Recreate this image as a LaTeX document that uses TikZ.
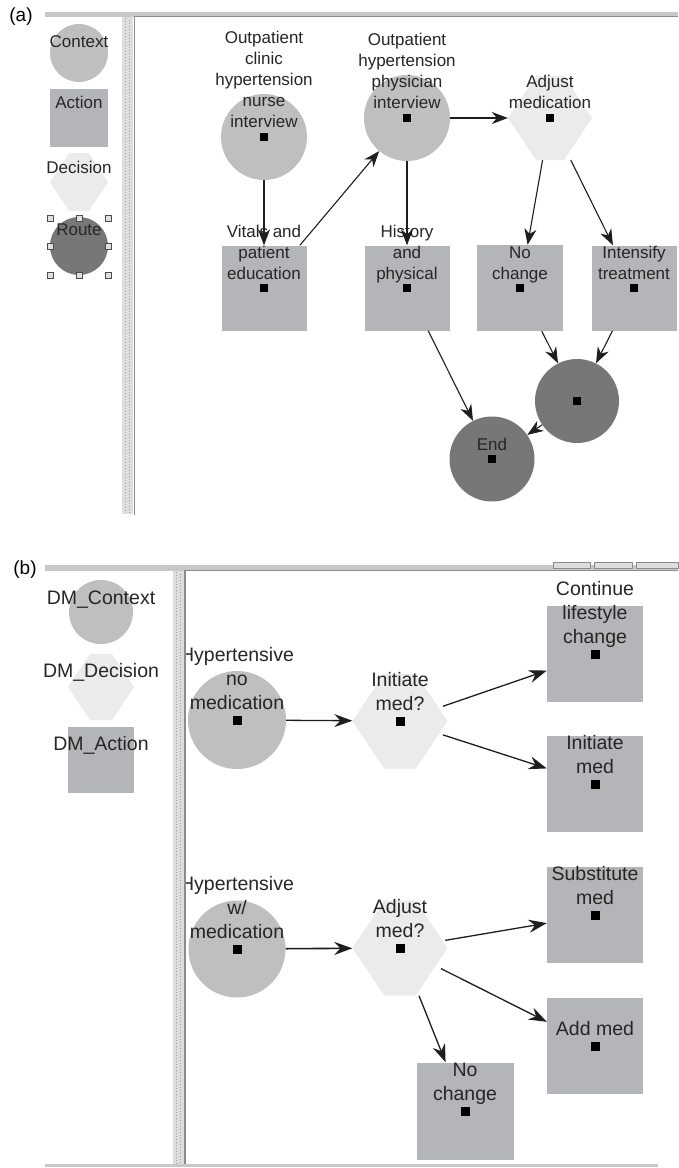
\documentclass[tikz,border=0pt]{standalone}
\usepackage{fontspec}
\setmainfont{Liberation Sans}
\usetikzlibrary{arrows.meta,calc}

\definecolor{ctxfill}{HTML}{BFBFBF}
\definecolor{actfill}{HTML}{B4B5B8}
\definecolor{decfill}{HTML}{EBEBEC}
\definecolor{routefill}{HTML}{777777}
\definecolor{labeltext}{HTML}{262626}
\definecolor{barlight}{HTML}{C8C8C8}
\definecolor{bardark}{HTML}{8C8C8C}
\definecolor{splitfill}{HTML}{DEDEDE}
\definecolor{splitdot}{HTML}{A0A0A0}
\definecolor{edgecol}{HTML}{1E1E1E}

\begin{document}
\begin{tikzpicture}[x=1pt,y=-1pt,
  context/.style={circle, fill=ctxfill, inner sep=0pt, minimum size=#1},
  route/.style={circle, fill=routefill, inner sep=0pt, minimum size=#1},
  action/.style={rectangle, fill=actfill, inner sep=0pt, minimum size=#1},
  decision/.style={rectangle, inner sep=0pt, minimum size=#1, path picture={
     \fill[decfill] (path picture bounding box.west)
       -- ($(path picture bounding box.north west)!1/3!(path picture bounding box.north east)$)
       -- ($(path picture bounding box.north west)!2/3!(path picture bounding box.north east)$)
       -- (path picture bounding box.east)
       -- ($(path picture bounding box.south west)!2/3!(path picture bounding box.south east)$)
       -- ($(path picture bounding box.south west)!1/3!(path picture bounding box.south east)$)
       -- cycle;}},
  lblA/.style={anchor=base, align=center, inner sep=0pt, text=labeltext,
     font=\fontsize{17}{21}\selectfont},
  lblB/.style={anchor=base, align=center, inner sep=0pt, text=labeltext,
     font=\fontsize{19.5}{24}\selectfont},
  panel/.style={anchor=center, inner sep=0pt, font=\fontsize{19}{22}\selectfont},
  edgeA/.style={draw=edgecol, line width=1.1pt,
     -{Stealth[length=16pt,width=12pt,inset=5pt]}},
  edgeB/.style={draw=edgecol, line width=1.3pt,
     -{Stealth[length=18pt,width=13pt,inset=6pt]}},
  handle/.style={draw=black!70, fill=black!12, line width=0.8pt},
  marker/.style={fill=black}
]
\useasboundingbox (0,0) rectangle (678,1168);
\fill[white] (0,0) rectangle (678,1168);

% ---------------- panel (a): window frame ----------------
\node[panel] (tagA) at (21,17) {(a)};
\fill[barlight] (45,12) rectangle (678,16.5);
\draw[bardark, line width=0.8pt] (134,16.8) -- (678,16.8);
\fill[splitfill] (122,17) rectangle (133,514);
\draw[splitdot, line width=1pt, dash pattern=on 1pt off 2pt] (125,18) -- (125,513);
\draw[splitdot, line width=1pt, dash pattern=on 1pt off 2pt, dash phase=1.5pt] (129.5,18) -- (129.5,513);
\draw[bardark, line width=1.2pt] (134.5,16.5) -- (134.5,515);

% palette
\node[context=58] (legctx) at (79,53) {};
\node[action=58] (legact) at (79,117.5) {};
\node[decision=58] (legdec) at (79,182) {};
\node[route=58] (legroute) at (79,246) {};
\node[lblA] (legctx-l) at (79,47) {Context};
\node[lblA] (legact-l) at (79,108) {Action};
\node[lblA] (legdec-l) at (79,173) {Decision};
\node[lblA] (legroute-l) at (79,235) {Route};
\foreach \p in {(50,218),(79,218),(108,218),(50,246),(108,246),(50,275),(79,275),(108,275)}
  \draw[handle] \p ++(-3,-3) rectangle ++(6,6);

% canvas
\begin{scope}
\clip (135.5,17.5) rectangle (678,515);
\node[context=86] (nurse) at (264,137) {};
\node[context=86] (phys) at (407,118) {};
\node[decision=84] (adjmed) at (550,118) {};
\node[action=85] (vitals) at (264,288) {};
\node[action=85] (hist) at (407,288) {};
\node[action=86] (noch) at (520,288) {};
\node[action=85] (intens) at (634,288) {};
\node[route=84] (routen) at (577,401) {};
\node[route=85] (endn) at (492,459) {};
\foreach \n in {nurse,phys,adjmed,vitals,hist,noch,intens,routen,endn}
  \fill[marker] ($(\n)+(-4,-4)$) rectangle ($(\n)+(4,4)$);

\node[lblA] (nurse-l) at (264,127) {Outpatient\\clinic\\hypertension\\nurse\\interview};
\node[lblA] (phys-l) at (407,108) {Outpatient\\hypertension\\physician\\interview};
\node[lblA] (adjmed-l) at (550,108) {Adjust\\medication};
\node[lblA] (vitals-l) at (264,279) {Vitals and\\patient\\education};
\node[lblA] (hist-l) at (407,279) {History\\and\\physical};
\node[lblA] (noch-l) at (520,279) {No\\change};
\node[lblA] (intens-l) at (634,279) {Intensify\\treatment};
\node[lblA] (endn-l) at (492,450) {End};

\draw[edgeA] (nurse) -- (vitals);
\draw[edgeA] (vitals) -- (phys);
\draw[edgeA] (phys) -- (adjmed);
\draw[edgeA] (phys) -- (hist);
\draw[edgeA] (adjmed) -- (noch);
\draw[edgeA] (adjmed) -- (intens);
\draw[edgeA] (hist) -- (endn);
\draw[edgeA] (noch) -- (routen);
\draw[edgeA] (intens) -- (routen);
\draw[edgeA] (routen) -- (endn);
\end{scope}

% ---------------- panel (b): window frame ----------------
\node[panel] (tagB) at (25,570) {(b)};
\fill[barlight] (45,565) rectangle (678,570.5);
\draw[bardark, line width=0.8pt] (184,570.8) -- (678,570.8);
\foreach \a/\b in {553/590,594/632,636/678}
  \draw[bardark, fill=splitfill, line width=0.6pt] (\a,562.5) rectangle (\b,568);
\fill[splitfill] (173,571) rectangle (183.5,1166);
\draw[splitdot, line width=1pt, dash pattern=on 1pt off 2pt] (176,572) -- (176,1164);
\draw[splitdot, line width=1pt, dash pattern=on 1pt off 2pt, dash phase=1.5pt] (180.5,572) -- (180.5,1164);
\draw[bardark, line width=1.2pt] (185,570.5) -- (185,1164);
\fill[barlight] (45,1163.5) rectangle (658,1167);

% palette
\node[context=64] (dmctx) at (101,612) {};
\node[decision=66] (dmdec) at (101,687) {};
\node[action=66] (dmact) at (101,760) {};
\node[lblB] (dmctx-l) at (101,604) {DM\_Context};
\node[lblB] (dmdec-l) at (101,677) {DM\_Decision};
\node[lblB] (dmact-l) at (101,750) {DM\_Action};

% canvas
\begin{scope}
\clip (186,571.5) rectangle (678,1163);
\node[context=98] (hnm) at (237,720) {};
\node[decision=95] (initq) at (400,721) {};
\node[action=96] (cont) at (595,654) {};
\node[action=96] (initmed) at (595,784) {};
\node[context=97] (hwm) at (237,949) {};
\node[decision=95] (adjq) at (400,948) {};
\node[action=96] (subst) at (595,915) {};
\node[action=96] (addmed) at (595,1046) {};
\node[action=97] (noch2) at (465,1111) {};
\foreach \n in {hnm,initq,cont,initmed,hwm,adjq,subst,addmed,noch2}
  \fill[marker] ($(\n)+(-4.5,-4.5)$) rectangle ($(\n)+(4.5,4.5)$);

\node[lblB] (hnm-l) at (237,709) {Hypertensive\\no\\medication};
\node[lblB] (initq-l) at (400,710) {Initiate\\med?};
\node[lblB] (cont-l) at (595,643) {Continue\\lifestyle\\change};
\node[lblB] (initmed-l) at (595,773) {Initiate\\med};
\node[lblB] (hwm-l) at (237,938) {Hypertensive\\w/\\medication};
\node[lblB] (adjq-l) at (400,937) {Adjust\\med?};
\node[lblB] (subst-l) at (595,904) {Substitute\\med};
\node[lblB] (addmed-l) at (595,1035) {Add med};
\node[lblB] (noch2-l) at (465,1100) {No\\change};

\draw[edgeB] (hnm) -- (initq);
\draw[edgeB, shorten <=-5pt] (initq) -- (cont);
\draw[edgeB, shorten <=-5pt] (initq) -- (initmed);
\draw[edgeB, line width=1.6pt] (hwm) -- (adjq);
\draw[edgeB, shorten <=-2.5pt] (adjq) -- (subst);
\draw[edgeB, shorten <=-7.5pt] (adjq) -- (addmed);
\draw[edgeB] (adjq) -- (noch2);
\end{scope}
\end{tikzpicture}
\end{document}
